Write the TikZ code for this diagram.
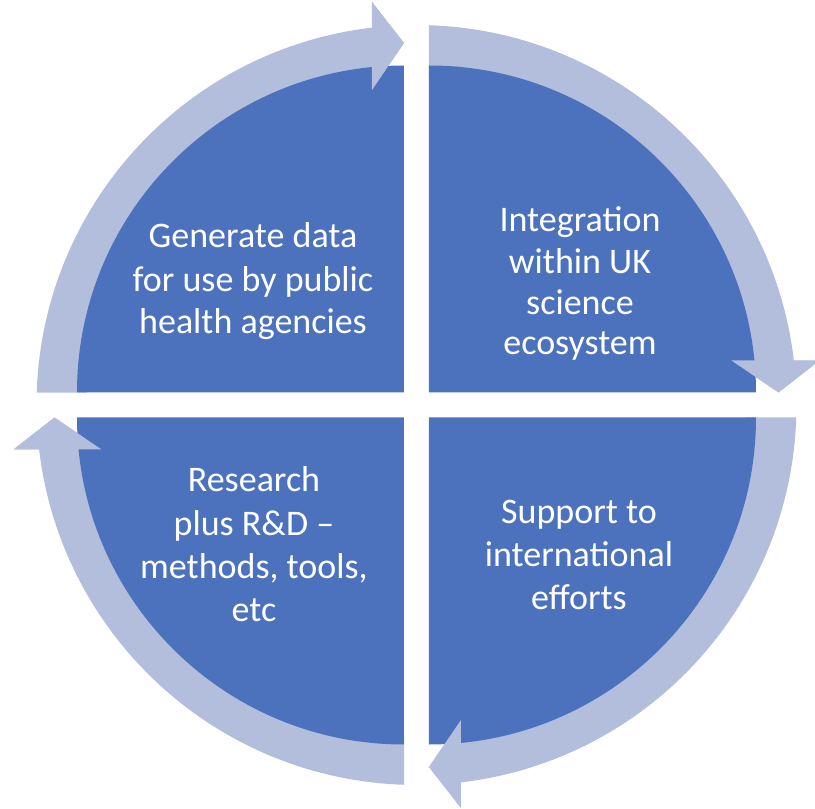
\documentclass[tikz,border=0pt]{standalone}
\usepackage{fontspec}
\setmainfont{Carlito}
\definecolor{secblue}{RGB}{76,114,190}
\definecolor{arrblue}{RGB}{179,190,221}
\tikzset{
  lbl/.style={text=white, font=\fontsize{36}{43}\selectfont, anchor=base, inner sep=0pt},
  shaft/.style={fill=arrblue},
  sector/.style={fill=secblue},
  headtri/.style={fill=arrblue}
}
\begin{document}
\begin{tikzpicture}[x=1pt,y=1pt]
\useasboundingbox (-416.5,-404) rectangle (398.5,405);
% arrow shafts (behind the sectors)
\foreach \r in {0,-90,-180,-270}{
  \begin{scope}[rotate=\r]
    \fill[shaft] (178.115:380) arc[start angle=178.115, end angle=96.725, radius=380]
      -- (-44.5,403) -- (-12.5,362) -- (-44.5,315) -- (97.75:330)
      arc[start angle=97.75, end angle=177.83, radius=330] -- cycle;
  \end{scope}
}
% sectors
\fill[sector] (-12.5,12.5) -- ++(-327,0) arc[start angle=180, end angle=90, radius=327] -- cycle;
\fill[sector] (12.5,12.5) -- ++(0,327) arc[start angle=90, end angle=0, radius=327] -- cycle;
\fill[sector] (12.5,-12.5) -- ++(327,0) arc[start angle=0, end angle=-90, radius=327] -- cycle;
\fill[sector] (-12.5,-12.5) -- ++(0,-327) arc[start angle=270, end angle=180, radius=327] -- cycle;
% arrow heads (on top)
\foreach \r in {0,-90,-180,-270}{
  \begin{scope}[rotate=\r]
    \fill[headtri] (-44.5,403) -- (-12.5,362) -- (-44.5,315) -- cycle;
  \end{scope}
}
% texts
\node[lbl] (tla) at (-163.5,157.3) {Generate data};
\node[lbl] (tlb) at (-163.5,113.3) {for use by public};
\node[lbl] (tlc) at (-163.5,71.7) {health agencies};
\node[lbl] (tra) at (163.5,173.3) {Integration};
\node[lbl] (trb) at (163.5,131.5) {within UK};
\node[lbl] (trc) at (163.5,90.7) {science};
\node[lbl] (trd) at (163.5,50) {ecosystem};
\node[lbl] (bra) at (162.5,-118.3) {Support to};
\node[lbl] (brb) at (162.5,-161) {international};
\node[lbl] (brc) at (162.5,-204.3) {efforts};
\node[lbl] (bla) at (-162.5,-86) {Research};
\node[lbl] (blb) at (-162.5,-130) {plus R\&D –};
\node[lbl] (blc) at (-162.5,-173.3) {methods, tools,};
\node[lbl] (bld) at (-162.5,-216.7) {etc};
\end{tikzpicture}
\end{document}
